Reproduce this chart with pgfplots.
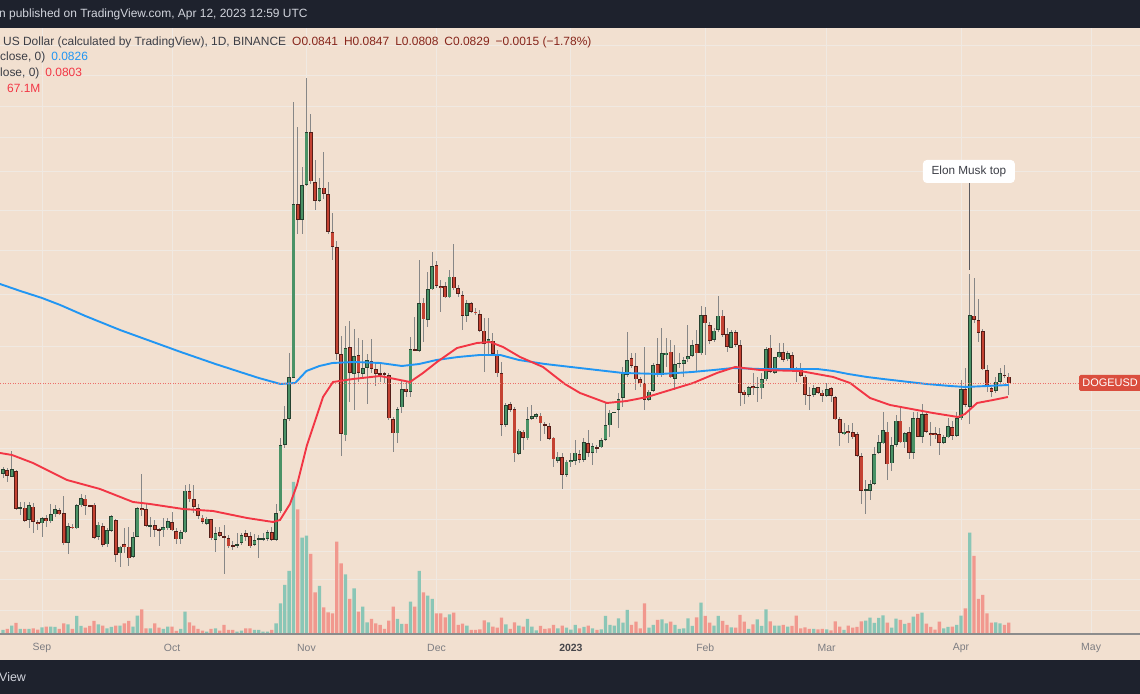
\documentclass[border=0pt]{standalone}
\usepackage{pgfplots}
\pgfplotsset{compat=1.18}
\usepackage{pgfplotstable}
\usepackage{fontspec}
\setmainfont{Liberation Sans}

\definecolor{bgc}{RGB}{242,224,208}
\definecolor{hdr}{RGB}{30,34,45}
\definecolor{hdrtxt}{RGB}{209,212,220}
\definecolor{gridc}{RGB}{240,233,226}
\definecolor{axisc}{RGB}{140,140,140}
\definecolor{tickc}{RGB}{125,125,130}
\definecolor{yrc}{RGB}{70,70,75}
\definecolor{legtxt}{RGB}{60,62,70}
\definecolor{ohlc}{RGB}{135,38,28}
\definecolor{maBlue}{RGB}{33,150,243}
\definecolor{maRed}{RGB}{242,54,69}
\definecolor{priceln}{RGB}{236,110,105}
\definecolor{wickc}{RGB}{135,135,135}
\definecolor{gfill}{RGB}{74,146,102}
\definecolor{gborder}{RGB}{38,66,48}
\definecolor{rfill}{RGB}{196,66,50}
\definecolor{rborder}{RGB}{85,30,24}
\definecolor{volg}{RGB}{138,198,182}
\definecolor{volr}{RGB}{241,152,142}
\definecolor{lblred}{RGB}{218,78,62}
\definecolor{callc}{RGB}{90,90,95}

\newcommand\fs[1]{\fontsize{#1}{#1}\selectfont}

% daily DOGE candles, x = day since 1 Sep 2022, values in chart pixels above the base line
\pgfplotstableread{
d o h l c v
-9 160.0 167.3 155.7 164.7 4
-8 164.0 165.7 152.3 158.0 5
-7 157.3 183.3 156.7 164.7 8.3
-6 163.0 163.5 124.0 125.3 11
-5 125.5 132.3 119.0 126.5 5
-4 126.3 132.3 112.3 113.3 5
-3 114.0 132.3 105.7 129.0 5
-2 127.3 131.3 101.3 112.3 5.7
-1 111.7 114.0 104.0 110.0 4.3
0 110.7 117.3 97.3 116.0 6.7
1 116.0 119.0 107.3 112.7 7.3
2 112.7 129.7 111.3 119.7 7.3
3 119.7 129.0 117.3 125.0 7
4 124.0 125.7 119.0 119.7 5
5 120.7 138.3 89.0 90.7 10.7
6 91.3 110.7 80.0 108.0 9.7
7 107.3 110.0 104.7 105.7 5
8 105.7 130.0 104.7 128.7 18
9 128.7 139.7 127.3 135.7 8
10 135.3 139.0 119.0 128.0 6.3
11 128.0 128.7 127.3 127.5 8
12 129.3 130.7 94.7 96.0 13
13 97.3 112.0 94.0 109.3 9.7
14 108.0 110.7 87.3 89.0 8.3
15 89.7 105.7 87.3 104.0 5.7
16 103.3 119.0 102.3 118.0 7
17 114.0 114.7 72.3 79.0 8.3
18 80.7 88.0 67.3 87.3 8.3
19 89.7 105.7 80.7 87.0 10.7
20 87.3 107.3 68.3 75.7 13
21 77.3 102.3 75.7 96.7 7.3
22 97.3 127.3 96.7 125.7 18.3
23 126.0 160.0 118.0 123.7 24.7
24 124.7 130.7 107.3 108.0 5.7
25 108.0 117.3 97.3 108.6 5.7
26 109.0 114.0 97.3 104.3 10.7
27 104.3 105.7 88.0 103.3 6.3
28 103.7 115.7 97.3 107.0 5
29 105.7 115.7 104.0 113.0 7.3
30 111.7 122.0 103.3 103.7 7.3
31 102.7 105.7 90.0 94.7 3
32 94.7 104.0 90.0 101.7 5
33 101.7 149.0 100.7 143.3 22.3
34 143.0 150.4 131.9 134.5 11.7
35 134.5 148.6 120.8 127.1 8.3
36 125.6 130.1 115.3 118.2 5
37 116.4 119.0 109.7 112.3 3.3
38 110.4 117.1 108.6 115.3 2.3
39 114.5 115.3 93.8 95.7 5
40 94.2 107.1 82.0 100.5 5.7
41 101.6 106.7 96.8 97.9 3.3
42 97.9 108.6 59.8 96.8 9
43 95.7 98.6 85.7 87.5 4
44 88.3 93.1 83.8 87.1 4
45 88.6 100.5 86.4 90.1 2.3
46 91.2 100.5 89.4 98.6 3.3
47 100.5 104.2 93.1 96.8 5.7
48 97.5 102.3 85.7 87.5 5.7
49 89.4 99.7 88.3 94.2 4
50 94.5 98.6 76.4 95.0 4
51 94.5 100.5 93.1 95.3 2.3
52 94.9 104.2 93.1 101.6 2.3
53 101.6 106.7 93.1 94.2 4
54 94.2 130.1 93.1 120.8 10.7
55 122.7 195.9 120.8 189.2 30.7
56 189.2 228.1 185.5 215.1 49
57 215.1 281.0 213.3 256.6 63
58 255.8 531.5 255.8 429.7 152
59 429.7 507.4 400.1 414.2 124.5
60 414.2 466.7 400.1 449.0 96.3
61 449.0 555.5 448.2 501.5 98.3
62 501.5 520.4 450.1 452.7 80
63 451.9 474.1 424.2 433.4 41.7
64 433.4 455.6 431.6 445.6 48
65 446.4 481.5 435.3 440.1 26.7
66 440.1 451.9 400.1 402.0 21.7
67 402.0 420.5 374.2 387.2 20.7
68 387.2 392.7 274.3 279.9 92.3
69 279.9 298.4 178.1 200.3 70.7
70 198.5 308.4 192.9 286.2 59.7
71 286.9 313.2 231.8 261.4 35
72 260.3 304.7 224.4 278.0 45.7
73 278.8 295.8 252.1 261.4 22.3
74 260.3 293.9 255.8 266.2 27.3
75 266.2 279.9 229.9 273.6 11.7
76 272.5 294.7 261.4 265.1 15
77 265.1 271.4 248.4 260.3 10.7
78 260.7 272.3 252.3 260.0 9
79 260.7 262.3 250.7 259.7 5
80 259.0 260.7 214.0 215.7 13.3
81 215.0 217.3 181.7 200.7 27.3
82 200.7 227.3 191.3 224.7 15
83 226.7 254.0 220.7 244.7 10
84 245.3 252.3 237.3 242.3 10
85 242.3 297.3 237.3 284.7 32.3
86 284.7 317.3 284.0 284.0 27.3
87 283.3 374.0 282.3 330.7 63
88 331.3 335.7 292.3 314.7 41.7
89 314.0 362.3 307.3 344.7 38.3
90 344.7 382.3 344.0 368.0 35
91 368.7 373.3 346.3 348.0 20.7
92 348.0 354.0 322.3 346.3 20.7
93 348.0 352.3 335.7 336.7 16.7
94 336.7 364.0 335.7 357.3 19.7
95 357.3 390.0 344.0 345.7 21.3
96 345.7 349.0 337.3 340.0 9
97 339.0 343.3 304.0 318.0 10.3
98 318.0 334.0 312.3 330.7 8.3
99 330.7 332.3 321.3 322.3 4
100 322.3 325.7 319.0 320.7 4
101 320.0 324.0 302.3 303.3 4.7
102 303.3 315.7 262.3 290.0 13.7
103 290.7 315.7 279.0 295.0 11.7
104 293.3 300.7 278.0 280.0 7.3
105 280.0 284.0 257.3 260.7 6.3
106 260.7 272.3 198.0 209.0 16.3
107 209.0 230.7 207.3 229.0 9.7
108 230.0 232.3 222.3 224.0 5
109 224.7 226.7 171.7 180.7 11.7
110 180.0 204.7 179.0 203.3 8.3
111 202.3 204.0 184.0 196.3 7.3
112 195.7 227.3 194.0 214.7 15
113 215.3 229.0 214.0 218.0 7.3
114 217.3 221.3 214.7 220.0 3.7
115 218.3 220.7 193.3 210.7 8
116 209.3 212.3 200.0 208.3 5
117 208.0 211.3 194.0 195.3 5.7
118 196.3 197.3 166.7 174.7 9
119 173.3 182.3 171.3 177.3 5.7
120 176.7 180.7 144.7 159.0 8.3
121 159.0 174.0 157.3 172.3 6.3
122 172.3 180.7 167.3 174.0 4.3
123 173.3 194.0 169.0 181.3 9
124 180.0 184.0 171.3 174.0 5.7
125 174.0 195.7 172.3 191.7 7
126 190.7 204.0 177.3 181.3 8.3
127 181.3 190.7 169.0 188.0 5.7
128 186.7 189.0 180.7 185.7 4
129 186.7 195.7 185.7 193.7 4.7
130 194.0 230.7 193.3 208.7 18
131 208.7 224.0 197.3 221.3 9
132 221.3 222.3 220.7 221.7 8.3
133 224.0 240.7 205.7 234.7 15.7
134 236.0 267.3 227.3 260.7 11.3
135 259.0 302.3 257.3 274.0 24
136 275.7 280.7 265.7 268.0 9
137 268.0 280.7 244.0 254.7 12.3
138 254.7 257.3 247.3 250.7 5.7
139 250.7 287.3 224.0 234.0 30.7
140 234.0 244.0 233.3 242.3 6.3
141 243.3 270.7 242.3 269.0 9
142 269.7 295.7 257.3 259.0 14
143 259.0 305.7 257.3 280.7 14.7
144 279.0 295.7 267.3 281.3 10.7
145 282.3 294.0 255.7 256.7 12.3
146 255.0 289.0 244.0 270.0 9
147 270.3 280.7 265.7 270.7 5
148 270.0 277.3 256.7 274.0 5.7
149 274.7 309.0 272.3 278.0 15.7
150 278.0 294.0 276.7 288.7 8
151 289.7 304.0 262.3 280.7 16.7
152 280.7 328.0 279.0 319.0 31.3
153 319.0 327.3 279.0 310.7 18
154 309.0 312.3 290.0 293.3 11.3
155 294.0 305.7 292.3 303.3 8.3
156 304.0 338.0 302.3 318.3 18
157 318.3 324.0 297.3 299.0 13
158 300.0 305.7 282.3 287.3 9
159 286.3 304.0 285.7 301.7 6.7
160 301.7 304.0 287.3 289.0 6.3
161 289.0 294.0 228.0 241.3 19
162 242.3 244.0 230.0 239.3 12.3
163 239.0 248.0 237.3 246.7 5
164 248.0 260.7 239.0 246.3 9.7
165 246.0 257.3 232.3 247.3 14.7
166 245.7 260.7 235.0 254.7 8
167 254.7 287.3 253.3 284.7 24.7
168 286.3 299.0 260.7 262.3 12.7
169 261.3 277.3 260.0 276.7 8.3
170 276.7 291.3 275.7 282.0 8.3
171 282.0 290.7 272.3 274.0 9
172 274.7 283.3 273.3 280.7 7.3
173 279.0 282.3 262.3 264.7 8
174 264.7 266.7 252.3 264.0 18.3
175 264.7 270.7 256.7 258.0 5.7
176 257.3 259.0 229.0 239.0 6.7
177 239.0 247.3 224.0 238.3 5
178 239.0 249.0 237.3 245.7 5
179 246.7 247.3 240.0 241.3 4.7
180 241.3 244.0 232.3 238.0 5
181 238.0 250.7 236.7 244.7 4.7
182 245.7 247.3 232.3 238.0 3.7
183 236.7 238.0 214.0 214.7 12.7
184 214.7 217.3 188.0 201.3 7.3
185 200.3 210.7 199.0 202.3 4
186 203.0 209.0 190.7 201.3 8.3
187 201.7 210.7 194.7 196.7 6.3
188 200.0 202.3 177.3 178.0 7
189 178.0 180.7 130.0 143.3 12.7
190 143.3 154.0 120.0 144.7 13.3
191 143.3 154.0 134.0 150.0 16.3
192 150.0 187.3 149.0 180.0 11
193 181.3 199.0 180.0 191.7 16
194 190.7 221.7 190.0 204.0 18.7
195 202.3 212.3 154.0 169.7 11.3
196 170.7 197.3 163.3 189.0 6.3
197 189.0 219.0 187.3 213.3 15.3
198 213.3 225.7 190.7 191.7 14
199 191.7 202.3 185.7 200.7 10
200 201.7 207.3 174.7 181.3 11
201 181.3 222.3 174.7 215.7 17.3
202 215.7 222.3 196.7 197.3 20
203 197.3 230.0 190.7 220.0 21.3
204 220.0 221.3 200.7 202.3 10.3
205 200.7 212.3 188.0 199.0 7
206 200.7 207.3 194.7 199.0 4.3
207 200.0 205.7 179.0 191.3 12.3
208 191.3 199.0 190.0 196.7 5.7
209 196.7 215.7 195.7 208.0 7
210 206.7 213.3 194.0 198.0 7.3
211 198.0 222.3 197.3 215.7 9
212 215.7 254.0 214.0 244.7 18.3
213 244.7 265.7 227.3 229.0 25.7
214 227.3 360.0 210.0 319.0 101.3
215 318.3 355.7 310.7 314.0 78
216 314.0 334.7 292.3 301.3 35
217 303.0 304.7 264.0 264.7 39
218 264.0 269.0 242.3 248.0 20.7
219 245.7 247.3 236.7 242.3 11.3
220 243.3 257.3 240.7 252.3 11.7
221 252.3 265.7 250.7 260.7 10.7
222 259.0 269.0 255.7 258.0 9
223 257.3 261.3 239.0 250.7 11.3
}\candles

% 200-day moving average
\pgfplotstableread{
d u
-9.69 350
-5 343
0 336
4.2 329
10 318
18 304
25 293
32 282
40 270
45.7 262
50 256
55 250
58.4 251
61 263
64 268
67 271
72 272
78 271
83 268
87 270
91 274
96 277
101 279
105.7 279
110 274
116 270
122 267
128 264
134 261
142.6 260
150 262
155 264
159.4 266
165.6 265
172 265
178.8 265
182.5 263
186 260
190.3 257
194 255
198 253
204 250
209.5 248
213 247
218 248
223 249
}\maslow

% 50-day moving average
\pgfplotstableread{
d u
-9.69 181
-6.92 179
-2.08 171
5.77 154
13.38 145
20.99 132
24.91 130
32.53 125
39.45 123
47.29 116
53.29 112
54.90 114
57.21 130
58.82 149
61.13 189
64.82 237
67.13 252
71.74 255
77.97 258
84.89 252
87.89 261
91.12 272
95.73 286
100.35 291
103.34 292
106.34 287
110.27 277
115.57 267
120.6 250
124.1 241
130.3 231
134.9 233
139.6 237
144.9 244
150.2 251
155.7 261
159.9 267
165.6 264
174.9 263
182.5 257
186.4 251
191.0 236
195.6 229
201.8 224
205.5 221
211.3 217
212.9 220
215.7 231
219.4 234
222.8 237
}\mafast

\begin{document}
\begin{tikzpicture}[x=1bp,y=1bp]
\path[use as bounding box] (0,0) rectangle (1140,694);
\fill[bgc] (0,0) rectangle (1140,694);

\begin{axis}[
  at={(0,60)}, anchor=south west,
  width=1140bp, height=606bp, scale only axis,
  xmin=-9.689, xmax=253.28, ymin=0, ymax=606,
  axis line style={draw=none},
  tick style={draw=none},
  xtick={0,30,61,91,122,153,181,212,242},
  xticklabels={Sep,Oct,Nov,Dec,{\textcolor{yrc}{\bfseries 2023}},Feb,Mar,Apr,May},
  xticklabel style={font=\fs{10.5}, text=tickc, anchor=center, yshift=-14bp},
  ytick={23,54,82,114,144,185,223,287,339,383,423,462,496,527,558,588},
  yticklabels={},
  xmajorgrids, ymajorgrids,
  grid style={gridc, line width=1bp},
  clip=true,
  candle/.style={draw=none, mark=none, forget plot,
    error bars/.cd, y dir=both, y explicit, error mark=none,
    error bar style={draw=#1}},
]
% volume
\addplot[ybar, bar width=3.3bp, bar shift=0pt, fill=volg, draw=none, forget plot]
  table[x=d, y expr={\thisrow{c}>=\thisrow{o} ? \thisrow{v} : nan}] {\candles};
\addplot[ybar, bar width=3.3bp, bar shift=0pt, fill=volr, draw=none, forget plot]
  table[x=d, y expr={\thisrow{c}<\thisrow{o} ? \thisrow{v} : nan}] {\candles};

% wicks
\addplot[candle={wickc, line width=0.9bp}]
  table[x=d, y expr={(\thisrow{h}+\thisrow{l})/2}, y error expr={(\thisrow{h}-\thisrow{l})/2}] {\candles};

% bodies, up days
\addplot[candle={gborder, line width=3.8bp}]
  table[x=d, y expr={\thisrow{c}>=\thisrow{o} ? (\thisrow{o}+\thisrow{c})/2 : nan},
        y error expr={max(abs(\thisrow{c}-\thisrow{o})/2,0.8)}] {\candles};
\addplot[candle={gfill, line width=2.3bp}]
  table[x=d, y expr={\thisrow{c}>=\thisrow{o} ? (\thisrow{o}+\thisrow{c})/2 : nan},
        y error expr={max(abs(\thisrow{c}-\thisrow{o})/2-0.75,0)}] {\candles};
% bodies, down days
\addplot[candle={rborder, line width=3.8bp}]
  table[x=d, y expr={\thisrow{c}<\thisrow{o} ? (\thisrow{o}+\thisrow{c})/2 : nan},
        y error expr={max(abs(\thisrow{c}-\thisrow{o})/2,0.8)}] {\candles};
\addplot[candle={rfill, line width=2.3bp}]
  table[x=d, y expr={\thisrow{c}<\thisrow{o} ? (\thisrow{o}+\thisrow{c})/2 : nan},
        y error expr={max(abs(\thisrow{c}-\thisrow{o})/2-0.75,0)}] {\candles};

% moving averages
\addplot[maBlue, line width=1.9bp, mark=none] table[x=d, y=u] {\maslow};
\addplot[maRed, line width=1.9bp, mark=none] table[x=d, y=u] {\mafast};

% last price line and label
\draw[priceln, line width=0.8bp, dash pattern=on 1bp off 1.5bp] (axis cs:-9.689,251) -- (axis cs:239.2,251);
\node[fill=lblred, text=white, font=\fs{11}, inner sep=0pt, minimum width=64bp, minimum height=16bp,
  rounded corners=1.5bp, anchor=west] at (axis cs:239.2,251) {DOGEUSD\hspace*{2bp}};

% callout
\draw[callc, line width=0.9bp] (axis cs:214,451) -- (axis cs:214,364);
\node[fill=white, rounded corners=4bp, minimum width=92bp, minimum height=23bp, inner sep=0pt,
  font=\fs{11.8}, text=legtxt] at (axis cs:213.8,462.5) {Elon Musk top};
\end{axis}

\draw[axisc, line width=1.3bp] (0,60) -- (1140,60);

% header and footer bars
\fill[hdr] (0,666) rectangle (1140,694);
\node[anchor=west, inner sep=0pt, font=\fs{12}, text=hdrtxt] at (-1,680) {n published on TradingView.com, Apr 12, 2023 12:59 UTC};
\fill[hdr] (0,0) rectangle (1140,34);
\node[anchor=west, inner sep=0pt, font=\fs{12.5}, text=hdrtxt] at (-1,17) {View};

% legend lines
\node[anchor=west, inner sep=0pt, font=\fs{12}, text=legtxt] at (3,652)
  {US Dollar (calculated by TradingView), 1D, BINANCE\hspace{6bp}\textcolor{ohlc}{O0.0841\hspace{6bp}H0.0847\hspace{6bp}L0.0808\hspace{6bp}C0.0829\hspace{6bp}−0.0015 (−1.78\%)}};
\node[anchor=west, inner sep=0pt, font=\fs{12}, text=legtxt] at (0,637)
  {close, 0)\hspace{6bp}\textcolor{maBlue}{0.0826}};
\node[anchor=west, inner sep=0pt, font=\fs{12}, text=legtxt] at (0,621)
  {lose, 0)\hspace{6bp}\textcolor{maRed}{0.0803}};
\node[anchor=west, inner sep=0pt, font=\fs{12}, text=maRed] at (7,606) {67.1M};
\end{tikzpicture}
\end{document}
